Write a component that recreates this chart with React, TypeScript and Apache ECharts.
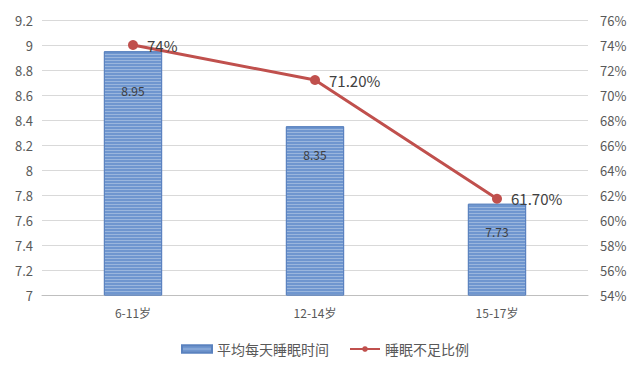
import React, { useEffect, useRef } from "react";
import * as echarts from "echarts";

const categories = ["6-11岁", "12-14岁", "15-17岁"];
const sleepHours = [8.95, 8.35, 7.73];
const shortageRate = [74, 71.2, 61.7];
const shortageLabels = ["74%", "71.20%", "61.70%"];
const barName = "平均每天睡眠时间";
const lineName = "睡眠不足比例";

export default function App() {
  const ref = useRef<HTMLDivElement>(null);
  useEffect(() => {
    if (!ref.current) return;
    const chart = echarts.init(ref.current, null, { renderer: "svg" });
    const font = "'Noto Sans CJK SC', 'Noto Sans', sans-serif";
    chart.setOption({
      animation: false,
      backgroundColor: "#ffffff",
      textStyle: { fontFamily: font },
      grid: { left: 42, right: 52, top: 20, bottom: 79 },
      legend: {
        bottom: 13,
        left: 176,
        itemGap: 20,
        textStyle: { color: "#595959", fontSize: 14, fontFamily: font },
        data: [
          { name: barName, icon: "rect", itemStyle: { color: "#6f96cf" } },
          { name: lineName },
        ],
        itemWidth: 30,
        itemHeight: 7,
      },
      xAxis: {
        type: "category",
        data: categories,
        axisLine: { lineStyle: { color: "#bfbfbf" } },
        axisTick: { show: false },
        axisLabel: { color: "#595959", fontSize: 12, margin: 11 },
      },
      yAxis: [
        {
          type: "value",
          min: 7,
          max: 9.2,
          interval: 0.2,
          axisLine: { show: false },
          axisTick: { show: false },
          splitLine: { lineStyle: { color: "#d9d9d9" } },
          axisLabel: { color: "#595959", fontSize: 13, margin: 9 },
        },
        {
          type: "value",
          min: 54,
          max: 76,
          interval: 2,
          axisLine: { show: false },
          axisTick: { show: false },
          splitLine: { show: false },
          axisLabel: { color: "#595959", fontSize: 13, margin: 12, formatter: "{value}%" },
        },
      ],
      series: [
        {
          name: barName,
          type: "bar",
          barWidth: "32%",
          data: sleepHours.map((v, i) => ({
            value: v,
            label: { distance: i === 0 ? 33 : 22 },
          })),
          itemStyle: {
            color: "#6f96cf",
            borderColor: "#5a82bf",
            borderWidth: 1,
            decal: {
              symbol: "rect",
              symbolSize: 1,
              dashArrayX: [[1, 0]],
              dashArrayY: [1, 2],
              color: "rgba(255,255,255,0.3)",
              rotation: 0,
            },
          },
          label: {
            show: true,
            position: "insideTop",
            color: "#404040",
            fontSize: 12,
          },
        },
        {
          name: lineName,
          type: "line",
          yAxisIndex: 1,
          data: shortageRate,
          symbol: "circle",
          symbolSize: 10,
          lineStyle: { color: "#c0504d", width: 3 },
          itemStyle: { color: "#c0504d" },
          label: {
            show: true,
            position: "right",
            distance: 9,
            color: "#404040",
            fontSize: 15,
            formatter: (p: any) => shortageLabels[p.dataIndex],
          },
        },
      ],
    });
    return () => chart.dispose();
  }, []);
  return (
    <div
      ref={ref}
      style={{ position: "fixed", left: 0, top: 0, width: 640, height: 374 }}
    />
  );
}
